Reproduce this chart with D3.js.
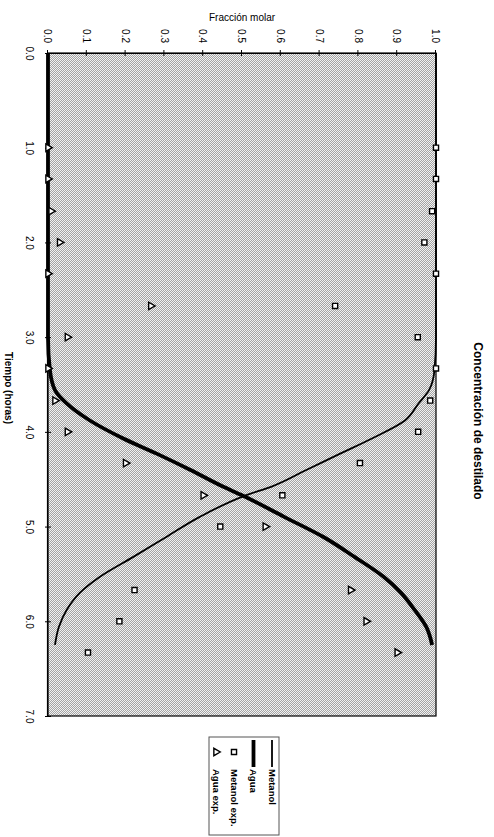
<!DOCTYPE html>
<html><head><meta charset="utf-8">
<script src="https://cdn.jsdelivr.net/npm/d3@7"></script>
<style>html,body{margin:0;padding:0;background:#fff;}svg{display:block;}</style>
</head><body>
<script>
// Curves (model)
const curveTime = [0, 3.0, 3.35, 3.56, 3.70, 3.88, 4.07, 4.23, 4.40, 4.58, 4.67, 4.90, 5.11, 5.32, 5.53, 5.70, 5.88, 6.06, 6.25];
const metanol   = [1.0, 1.0, 0.996, 0.982, 0.955, 0.92, 0.835, 0.753, 0.667, 0.575, 0.51, 0.39, 0.305, 0.22, 0.134, 0.082, 0.048, 0.028, 0.018];
const agua      = [0.0, 0.0, 0.005, 0.018, 0.048, 0.108, 0.194, 0.28, 0.366, 0.452, 0.50, 0.61, 0.71, 0.79, 0.865, 0.91, 0.945, 0.975, 0.99];
// Experimental points
const expTime     = [1.0, 1.33, 1.67, 2.0, 2.33, 2.67, 3.0, 3.33, 3.67, 4.0, 4.33, 4.67, 5.0, 5.67, 6.0, 6.33];
const metanolExp  = [1.0, 1.0, 0.99, 0.97, 1.0, 0.74, 0.953, 1.0, 0.985, 0.954, 0.804, 0.604, 0.444, 0.223, 0.184, 0.103];
const aguaExp     = [0.0, 0.0, 0.008, 0.03, 0.0, 0.265, 0.05, 0.0, 0.018, 0.05, 0.2, 0.40, 0.56, 0.78, 0.82, 0.90];
// Ticks / labels
const timeTicks = [0, 1, 2, 3, 4, 5, 6, 7];
const fracTicks = [0, 0.1, 0.2, 0.3, 0.4, 0.5, 0.6, 0.7, 0.8, 0.9, 1.0];
const legendLabels = ["Metanol", "Agua", "Metanol exp.", "Agua exp."];
const titleText = "Concentración de destilado";
const xTitle = "Tiempo (horas)";
const yTitle = "Fracción molar";

const W = 494, H = 837;
const svg = d3.select("body").append("svg").attr("width", W).attr("height", H);
const defs = svg.append("defs");
const pat = defs.append("pattern").attr("id","dither").attr("width",2).attr("height",2).attr("patternUnits","userSpaceOnUse");
pat.append("rect").attr("width",2).attr("height",2).attr("fill","#f2f2f2");
pat.append("rect").attr("width",1).attr("height",1).attr("fill","#a4a4a4");
pat.append("rect").attr("x",1).attr("y",1).attr("width",1).attr("height",1).attr("fill","#a4a4a4");

// Whole chart drawn in unrotated frame, then rotated 90deg clockwise
const g = svg.append("g").attr("transform", `translate(${W},0) rotate(90)`);

const x = d3.scaleLinear().domain([0, 7]).range([53, 716]);
const y = d3.scaleLinear().domain([0, 1]).range([446, 58]);

g.append("rect").attr("x", x(0)).attr("y", y(1)).attr("width", x(7)-x(0)).attr("height", y(0)-y(1))
  .attr("fill", "url(#dither)").attr("stroke", "#000").attr("stroke-width", 1.2);

// Axes
const font = "'Liberation Sans', Arial, sans-serif";
const yAxis = g.append("g").attr("transform", `translate(${x(0)},0)`)
  .call(d3.axisLeft(y).tickValues(fracTicks).tickFormat(d3.format(".1f")).tickSizeInner(3).tickSizeOuter(0).tickPadding(7));
yAxis.selectAll(".tick line").attr("x1", -3).attr("x2", 3).attr("stroke-width", 1);
yAxis.select(".domain").attr("stroke-width", 1.2);
yAxis.selectAll("text").attr("font-family", font).attr("font-size", 10).attr("fill", "#000");

const xAxis = g.append("g").attr("transform", `translate(0,${y(0)})`)
  .call(d3.axisBottom(x).tickValues(timeTicks).tickFormat(d3.format(".1f")).tickSizeInner(3).tickSizeOuter(0).tickPadding(12));
xAxis.selectAll(".tick line").attr("y1", -3).attr("y2", 3);
xAxis.select(".domain").attr("stroke-width", 1.2);
xAxis.selectAll("text").attr("font-family", font).attr("font-size", 10).attr("fill", "#000");

// Titles
g.append("text").attr("x", 421).attr("y", 16).attr("dy", "0.35em").attr("text-anchor", "middle")
  .attr("font-family", font).attr("font-weight", "bold").attr("font-size", 12).text(titleText);
g.append("text").attr("x", 388).attr("y", 486).attr("dy", "0.35em").attr("text-anchor", "middle")
  .attr("font-family", font).attr("font-weight", "bold").attr("font-size", 10).text(xTitle);
g.append("text").attr("transform", `translate(17,${494-242}) rotate(-90)`).attr("dy", "0.35em").attr("text-anchor", "middle")
  .attr("font-family", "'Liberation Sans Narrow', 'Liberation Sans', sans-serif").attr("font-size", 10).text(yTitle);

// Lines
const line = d3.line().curve(d3.curveMonotoneX);
const metPts = curveTime.map((t, i) => [x(t), y(metanol[i])]);
const aguaPts = curveTime.map((t, i) => [x(t), y(agua[i])]);
g.append("path").attr("d", line(metPts)).attr("fill", "none").attr("stroke", "#000").attr("stroke-width", 1.8);
g.append("path").attr("d", line(aguaPts)).attr("fill", "none").attr("stroke", "#000").attr("stroke-width", 3.8);

// Markers
const sq = d3.symbol().type(d3.symbolSquare).size(26);
const tri = d3.symbol().type(d3.symbolTriangle).size(24);
g.selectAll(".met").data(expTime).enter().append("path")
  .attr("d", sq()).attr("transform", (t, i) => `translate(${x(t)},${y(metanolExp[i])})`)
  .attr("fill", "#fff").attr("stroke", "#000").attr("stroke-width", 1.4);
g.selectAll(".agu").data(expTime).enter().append("path")
  .attr("d", tri()).attr("transform", (t, i) => `translate(${x(t)},${y(aguaExp[i])})`)
  .attr("fill", "#fff").attr("stroke", "#000").attr("stroke-width", 1.4);

// Legend
const lg = g.append("g");
lg.append("rect").attr("x", 737).attr("y", 215).attr("width", 98).attr("height", 70)
  .attr("fill", "#fff").attr("stroke", "#555").attr("stroke-width", 1);
const rows = [222, 240.5, 260, 278];
legendLabels.forEach((lab, i) => {
  const yy = rows[i];
  if (i === 0) lg.append("line").attr("x1", 740).attr("x2", 767).attr("y1", yy).attr("y2", yy).attr("stroke", "#000").attr("stroke-width", 1.8);
  if (i === 1) lg.append("line").attr("x1", 740).attr("x2", 767).attr("y1", yy).attr("y2", yy).attr("stroke", "#000").attr("stroke-width", 3.8);
  if (i === 2) lg.append("path").attr("d", sq()).attr("transform", `translate(752,${yy})`).attr("fill", "#fff").attr("stroke", "#000").attr("stroke-width", 1.4);
  if (i === 3) lg.append("path").attr("d", tri()).attr("transform", `translate(752,${yy})`).attr("fill", "#fff").attr("stroke", "#000").attr("stroke-width", 1.4);
  lg.append("text").attr("x", 769).attr("y", yy).attr("dy", "0.35em")
    .attr("font-family", "'Liberation Sans Narrow', 'Liberation Sans', sans-serif").attr("font-weight", "bold").attr("font-size", 9.5).text(lab);
});
</script>
</body></html>
